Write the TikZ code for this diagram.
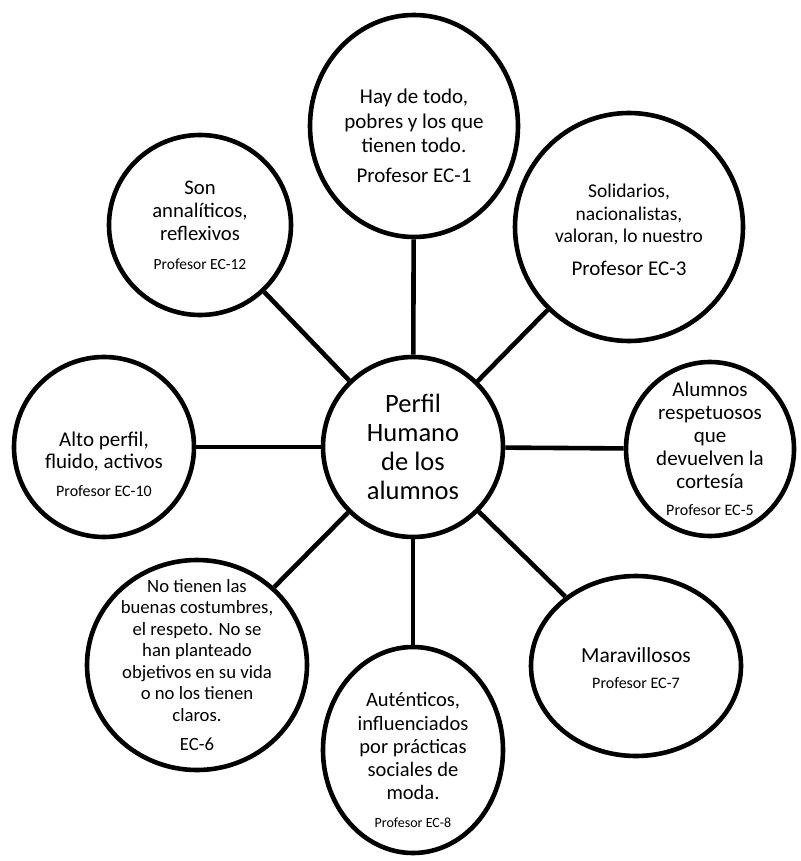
\documentclass[tikz,border=0pt]{standalone}
\usepackage{fontspec}
\setmainfont{Carlito}
\usetikzlibrary{shapes.geometric,calc}
\tikzset{
  bub/.style={draw=black, line width=4.6pt, ellipse, fill=white, inner sep=0pt},
  txt/.style={align=center, inner sep=0pt, font=\fontsize{21}{23}\selectfont, text=black},
  conn/.style={draw=black, line width=4.6pt}
}
\newcommand{\smallprof}[2]{{\fontsize{#1}{#1}\selectfont #2}}
\begin{document}
\begin{tikzpicture}[x=1pt,y=-1pt]
\useasboundingbox (0,0) rectangle (800,861);
% bubbles
\node[bub, minimum width=180pt, minimum height=180pt] (c) at (413,447) {};
\node[bub, minimum width=208pt, minimum height=222pt] (e1) at (414,126) {};
\node[bub, minimum width=228pt, minimum height=228pt] (e3) at (629,227) {};
\node[bub, minimum width=168pt, minimum height=174pt] (e5) at (710,449) {};
\node[bub, minimum width=210pt, minimum height=180pt] (e7) at (636,666) {};
\node[bub, minimum width=180pt, minimum height=206pt] (e8) at (413,750) {};
\node[bub, minimum width=220pt, minimum height=210pt] (e6) at (197,665) {};
\node[bub, minimum width=180pt, minimum height=180pt] (e10) at (104,447) {};
\node[bub, minimum width=182pt, minimum height=180pt] (e12) at (200,225) {};
% connectors
\draw[conn] (c) -- (e1);
\draw[conn] (c) -- (e3);
\draw[conn] (c) -- (e5);
\draw[conn] (c) -- (e7);
\draw[conn] (c) -- (e8);
\draw[conn] (c) -- (e6);
\draw[conn] (c) -- (e10);
\draw[conn] (c) -- (e12);
% texts
\node[txt, font=\fontsize{26.5}{29}\selectfont] (tc) at (c.center) {Perfil\\Humano\\de los\\alumnos};
\node[txt, font=\fontsize{21}{24.5}\selectfont] (t1) at ([yshift=-10pt]e1.center) {Hay de todo,\\pobres y los que\\tienen todo.\\[5pt]Profesor EC-1};
\node[txt, font=\fontsize{19.5}{22.5}\selectfont] (t3) at ([yshift=-3pt]e3.center) {Solidarios,\\nacionalistas,\\valoran, lo nuestro\\[10pt]\smallprof{21}{Profesor EC-3}};
\node[txt] (t5) at (e5.center) {Alumnos\\respetuosos\\que\\devuelven la\\cortesía\\[4pt]\smallprof{16}{Profesor EC-5}};
\node[txt, font=\fontsize{21.5}{23}\selectfont] (t7) at ([yshift=-2pt]e7.center) {Maravillosos\\[3pt]\smallprof{16}{Profesor EC-7}};
\node[txt, font=\fontsize{20.5}{23.3}\selectfont] (t8) at ([yshift=-10pt]e8.center) {Auténticos,\\influenciados\\por prácticas\\sociales de\\moda.\\[4pt]\smallprof{14}{Profesor EC-8}};
\node[txt, font=\fontsize{18.7}{21.5}\selectfont] (t6) at (e6.center) {No tienen las\\buenas costumbres,\\el respeto. No se\\han planteado\\objetivos en su vida\\o no los tienen\\claros.\\[7.5pt]EC-6};
\node[txt, font=\fontsize{21}{22}\selectfont] (t10) at ([yshift=-17pt]e10.center) {Alto perfil,\\fluido, activos\\[6pt]\smallprof{16}{Profesor EC-10}};
\node[txt, font=\fontsize{20.7}{23}\selectfont] (t12) at (e12.center) {Son\\annalíticos,\\reflexivos\\[6pt]\smallprof{15.5}{Profesor EC-12}};
\end{tikzpicture}
\end{document}
